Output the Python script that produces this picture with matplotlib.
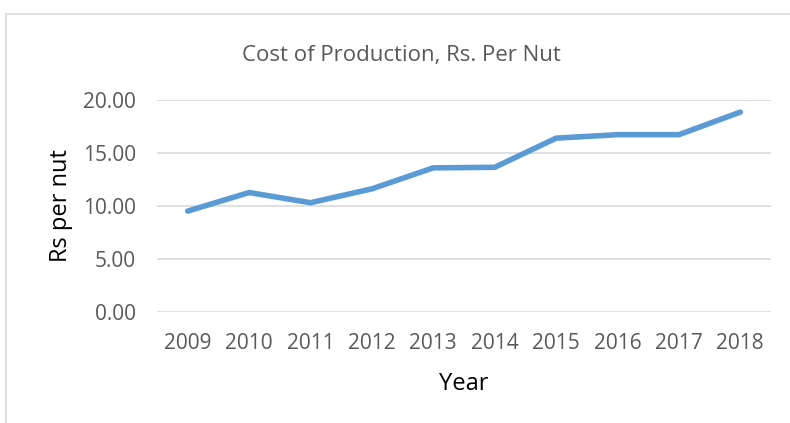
import numpy as np
import matplotlib.pyplot as plt
from matplotlib.patches import Rectangle

# Cost of production per nut
years = ['2009', '2010', '2011', '2012', '2013', '2014', '2015', '2016', '2017', '2018']
cost = [9.52, 11.27, 10.31, 11.62, 13.60, 13.65, 16.40, 16.73, 16.73, 18.86]
y_ticks = [0, 5, 10, 15, 20]

plt.rcParams['font.family'] = ['Open Sans', 'DejaVu Sans']

fig = plt.figure(figsize=(7.9, 4.23), dpi=100)
ax = fig.add_axes([157 / 790, 1 - 312 / 423, 614 / 790, 212 / 423])

x = np.arange(len(years))
ax.plot(x, cost, color='#5B9BD5', linewidth=4.0, solid_capstyle='round',
        solid_joinstyle='round', zorder=3)

ax.set_xlim(-0.5, len(years) - 0.5)
ax.set_ylim(0, 20)
ax.set_xticks(x)
ax.set_xticklabels(years)
ax.set_yticks(y_ticks)
ax.set_yticklabels(['%.2f' % v for v in y_ticks])
ax.tick_params(axis='both', length=0, labelsize=15, colors='#595959')
ax.tick_params(axis='y', pad=15)
ax.tick_params(axis='x', pad=15)
ax.grid(axis='y', color='#D9D9D9', linewidth=1.2)
ax.set_axisbelow(True)
for s in ax.spines.values():
    s.set_visible(False)

ax.set_xlabel('Year', fontsize=17, color='#000000', labelpad=13)
ax.set_ylabel('Rs per nut', fontsize=17, color='#000000', labelpad=7)
fig.text(401 / 790, 1 - 55 / 423, 'Cost of Production, Rs. Per Nut',
         ha='center', va='center', fontsize=16, color='#595959')

# chart border (left and top edges visible in the crop)
top = 1 - 14 / 423
fig.patches.append(Rectangle((6 / 790, -0.1), 2, top + 0.1,
                             transform=fig.transFigure, fill=False,
                             edgecolor='#D9D9D9', linewidth=1.2))

fig.savefig('out.png', dpi=100)
